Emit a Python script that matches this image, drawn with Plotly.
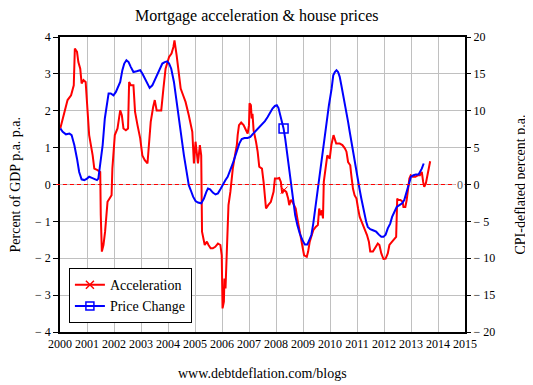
import plotly.graph_objects as go

# ---- Data ----
acc_year = [2000.01, 2000.16, 2000.28, 2000.41, 2000.51, 2000.55, 2000.63, 2000.68, 2000.75, 2000.80,
            2000.87, 2000.95, 2001.00, 2001.08, 2001.21, 2001.27, 2001.39, 2001.49, 2001.51, 2001.55,
            2001.61, 2001.67, 2001.76, 2001.82, 2001.91, 2001.94, 2002.03, 2002.13, 2002.23, 2002.29,
            2002.35, 2002.44, 2002.52, 2002.56, 2002.62, 2002.72, 2002.78, 2002.87, 2002.97, 2003.05,
            2003.14, 2003.24, 2003.29, 2003.36, 2003.45, 2003.51, 2003.58, 2003.67, 2003.75, 2003.83,
            2003.91, 2004.04, 2004.13, 2004.20, 2004.24, 2004.32, 2004.40, 2004.47, 2004.56, 2004.65,
            2004.77, 2004.90, 2004.96, 2005.02, 2005.11, 2005.18, 2005.23, 2005.26, 2005.36, 2005.44,
            2005.50, 2005.58, 2005.66, 2005.75, 2005.85, 2005.94, 2005.99, 2006.02, 2006.07, 2006.09,
            2006.13, 2006.15, 2006.19, 2006.24, 2006.31, 2006.36, 2006.40, 2006.48, 2006.55, 2006.58,
            2006.63, 2006.71, 2006.80, 2006.89, 2006.95, 2007.00, 2007.02, 2007.07, 2007.10, 2007.13,
            2007.17, 2007.26, 2007.32, 2007.38, 2007.48, 2007.54, 2007.59, 2007.63, 2007.71, 2007.81,
            2007.91, 2007.96, 2008.03, 2008.12, 2008.18, 2008.23, 2008.30, 2008.38, 2008.45, 2008.49,
            2008.55, 2008.61, 2008.67, 2008.73, 2008.79, 2008.89, 2008.98, 2009.04, 2009.14, 2009.19,
            2009.25, 2009.31, 2009.38, 2009.47, 2009.55, 2009.60, 2009.65, 2009.70, 2009.74, 2009.77,
            2009.83, 2009.90, 2009.99, 2010.05, 2010.13, 2010.23, 2010.36, 2010.46, 2010.55, 2010.61,
            2010.67, 2010.75, 2010.79, 2010.85, 2010.91, 2010.98, 2011.04, 2011.10, 2011.20, 2011.28,
            2011.37, 2011.44, 2011.49, 2011.59, 2011.67, 2011.77, 2011.83, 2011.90, 2011.98, 2012.06,
            2012.14, 2012.20, 2012.30, 2012.39, 2012.45, 2012.49, 2012.53, 2012.61, 2012.69, 2012.72,
            2012.79, 2012.84, 2012.89, 2012.94, 2012.99, 2013.06, 2013.16, 2013.25, 2013.33, 2013.40,
            2013.45, 2013.49, 2013.55, 2013.61, 2013.67, 2013.71]
acc_value = [1.52, 1.97, 2.29, 2.42, 2.69, 3.69, 3.60, 3.32, 3.14, 2.74,
             2.83, 2.78, 2.24, 1.34, 0.79, 0.43, 0.39, 0.34, -0.83, -1.82,
             -1.64, -1.28, -0.47, -0.38, -0.29, 0.43, 1.34, 1.52, 2.01, 1.88,
             1.52, 1.47, 1.52, 2.78, 2.69, 2.69, 1.97, 1.61, 1.25, 0.79,
             0.66, 0.57, 0.98, 1.70, 2.10, 2.29, 2.01, 2.01, 2.01, 2.60,
             3.14, 3.46, 3.55, 3.73, 3.91, 3.50, 3.05, 2.60, 2.42, 2.24,
             1.88, 1.43, 0.57, 1.16, 0.57, 1.07, 0.79, -1.28, -1.64, -1.55,
             -1.64, -1.73, -1.73, -1.69, -1.60, -1.64, -1.92, -3.36, -3.18, -2.55,
             -2.82, -2.37, -1.19, -0.56, -0.20, 0.16, 0.43, 0.79, 1.07, 1.34,
             1.61, 1.68, 1.61, 1.47, 1.38, 1.61, 2.20, 2.15, 1.79, 1.92,
             1.47, 1.16, 0.89, 0.48, 0.43, 0.07, -0.29, -0.65, -0.56, -0.47,
             -0.20, 0.16, 0.16, 0.18, 0.07, -0.24, -0.15, -0.20, -0.38, -0.56,
             -0.42, -0.47, -0.56, -0.65, -0.92, -1.37, -1.73, -1.92, -1.96, -1.82,
             -1.55, -1.37, -1.24, -1.15, -1.10, -0.65, -0.83, -0.70, -0.92, 0.07,
             0.43, 0.79, 0.70, 1.07, 1.34, 1.11, 1.11, 1.07, 0.98, 0.89,
             0.61, 0.52, 0.25, -0.11, -0.29, -0.38, -0.65, -0.88, -1.06, -1.19,
             -1.37, -1.55, -1.82, -1.82, -1.73, -1.60, -1.64, -1.87, -2.02, -2.01,
             -1.87, -1.64, -1.55, -1.46, -1.42, -0.38, -0.42, -0.42, -0.47, -0.61,
             -0.61, -0.42, -0.11, 0.16, 0.25, 0.21, 0.21, 0.25, 0.25, 0.34,
             0.07, -0.06, 0.03, 0.25, 0.39, 0.63]

price_year = [2000.01, 2000.10, 2000.22, 2000.35, 2000.43, 2000.53, 2000.63, 2000.71, 2000.80, 2000.90,
              2001.00, 2001.08, 2001.18, 2001.27, 2001.37, 2001.42, 2001.49, 2001.58, 2001.66, 2001.74,
              2001.80, 2001.88, 2001.98, 2002.07, 2002.15, 2002.23, 2002.31, 2002.38, 2002.46, 2002.54,
              2002.62, 2002.72, 2002.84, 2002.97, 2003.05, 2003.14, 2003.24, 2003.32, 2003.42, 2003.51,
              2003.61, 2003.70, 2003.79, 2003.88, 2003.97, 2004.04, 2004.12, 2004.22, 2004.32, 2004.40,
              2004.49, 2004.59, 2004.69, 2004.77, 2004.84, 2004.93, 2005.02, 2005.11, 2005.23, 2005.33,
              2005.42, 2005.48, 2005.56, 2005.66, 2005.76, 2005.85, 2005.94, 2006.03, 2006.13, 2006.21,
              2006.31, 2006.40, 2006.48, 2006.56, 2006.64, 2006.73, 2006.83, 2006.95, 2007.05, 2007.13,
              2007.22, 2007.32, 2007.42, 2007.50, 2007.59, 2007.69, 2007.79, 2007.87, 2007.96, 2008.03,
              2008.09, 2008.15, 2008.21, 2008.28, 2008.34, 2008.40, 2008.46, 2008.52, 2008.58, 2008.64,
              2008.71, 2008.79, 2008.88, 2008.98, 2009.07, 2009.16, 2009.23, 2009.31, 2009.38, 2009.47,
              2009.55, 2009.63, 2009.71, 2009.80, 2009.87, 2009.96, 2010.06, 2010.12, 2010.18, 2010.24,
              2010.30, 2010.36, 2010.42, 2010.48, 2010.55, 2010.61, 2010.67, 2010.73, 2010.79, 2010.85,
              2010.91, 2010.98, 2011.04, 2011.10, 2011.16, 2011.22, 2011.28, 2011.34, 2011.40, 2011.49,
              2011.59, 2011.71, 2011.81, 2011.90, 2011.98, 2012.06, 2012.14, 2012.23, 2012.30, 2012.39,
              2012.47, 2012.57, 2012.67, 2012.75, 2012.82, 2012.88, 2012.94, 2013.00, 2013.09, 2013.18,
              2013.28, 2013.34, 2013.40, 2013.47]
price_value = [7.6, 7.15, 6.8, 6.9, 6.7, 5.35, 3.5, 1.7, 0.7, 0.6,
               0.8, 1.05, 0.9, 0.8, 0.6, 0.8, 2.6, 5.35, 8.95, 11.2,
               12.35, 12.35, 12.1, 12.55, 13.25, 13.9, 15.5, 16.4, 16.85, 16.6,
               15.95, 15.25, 15.35, 15.5, 15.05, 14.35, 13.7, 13.1, 13.45, 14.15,
               14.8, 15.7, 16.4, 16.6, 16.7, 16.4, 15.7, 13.9, 11.2, 8.5,
               6.25, 3.95, 1.7, -0.1, -0.75, -1.65, -2.25, -2.45, -2.55, -1.9,
               -1.0, -0.55, -0.65, -1.1, -1.35, -1.2, -0.65, 0.0, 0.6, 1.05,
               1.95, 2.85, 3.75, 4.65, 5.55, 6.15, 6.3, 6.3, 6.45, 6.8,
               7.15, 7.5, 7.8, 8.15, 8.6, 9.15, 9.85, 10.3, 10.65, 10.75,
               10.4, 9.6, 8.7, 7.6, 6.25, 4.45, 2.6, 0.8, -1.0, -2.55,
               -4.15, -5.5, -6.65, -7.55, -8.15, -8.15, -7.55, -6.85, -5.3, -2.8,
               -0.55, 1.7, 4.45, 6.7, 8.7, 10.75, 13.0, 14.8, 15.25, 15.5,
               15.25, 14.6, 13.45, 12.35, 11.2, 9.85, 8.5, 7.15, 5.8, 4.45,
               3.05, 1.7, 0.35, -0.75, -1.9, -3.05, -4.15, -5.05, -5.75, -6.05,
               -6.2, -6.4, -6.8, -7.1, -7.1, -6.8, -5.95, -5.3, -4.4, -3.6,
               -3.05, -2.8, -2.55, -2.1, -1.2, -0.3, 0.6, 1.05, 1.25, 1.35,
               1.35, 1.7, 2.15, 2.85]

series_names = ["Acceleration", "Price Change"]
marker_year = 2008.3  # single marker drawn on each curve (as in the reference)

x_ticks = list(range(2000, 2016))
left_tickvals = [4, 3, 2, 1, 0, -1, -2, -3, -4]
left_ticktext = ["4", "3", "2", "1", "0", "− 1", "− 2", "− 3", "− 4"]
right_tickvals = [20, 15, 10, 5, 0, -5, -10, -15, -20]
right_ticktext = ["20", "15", "10", "5", "0", "− 5", "− 10", "− 15", "− 20"]

title_text = "Mortgage acceleration & house prices"
left_title = "Percent of GDP p.a. p.a."
right_title = "CPI-deflated percent p.a."
footer_text = "www.debtdeflation.com/blogs"

RED = "#ff0000"
BLUE = "#0000ff"
FONT = "Liberation Serif"


def nearest(xs, target):
    return min(range(len(xs)), key=lambda i: abs(xs[i] - target))


ka = nearest(acc_year, marker_year)
kp = nearest(price_year, marker_year)

fig = go.Figure()

# main lines
fig.add_trace(go.Scatter(x=acc_year, y=acc_value, mode="lines", yaxis="y",
                         line=dict(color=RED, width=2), showlegend=False, hoverinfo="skip"))
fig.add_trace(go.Scatter(x=price_year, y=price_value, mode="lines", yaxis="y2",
                         line=dict(color=BLUE, width=2), showlegend=False, hoverinfo="skip"))

# single markers
fig.add_trace(go.Scatter(x=[acc_year[ka]], y=[acc_value[ka]], mode="markers", yaxis="y",
                         marker=dict(symbol="x-thin-open", size=7, color=RED, line=dict(color=RED, width=1)),
                         showlegend=False, hoverinfo="skip"))
fig.add_trace(go.Scatter(x=[price_year[kp]], y=[price_value[kp]], mode="markers", yaxis="y2",
                         marker=dict(symbol="square-open", size=9, color=BLUE, line=dict(color=BLUE, width=1.5)),
                         showlegend=False, hoverinfo="skip"))

# legend entries
fig.add_trace(go.Scatter(x=[None], y=[None], mode="lines+markers", name=series_names[0],
                         line=dict(color=RED, width=2),
                         marker=dict(symbol="x-thin-open", size=8, color=RED, line=dict(color=RED, width=1.5))))
fig.add_trace(go.Scatter(x=[None], y=[None], mode="lines+markers", name=series_names[1],
                         line=dict(color=BLUE, width=2),
                         marker=dict(symbol="square-open", size=8, color=BLUE, line=dict(color=BLUE, width=1.5))))

# zero marker line
fig.add_shape(type="line", xref="paper", yref="y", x0=-0.01, x1=1, y0=0, y1=0,
              line=dict(color=RED, width=1, dash="4px,3px"), layer="above")

# The page body has an 8px margin, so the figure is sized/offset to compensate.
fig.update_layout(
    width=525, height=377,
    margin=dict(l=52, r=68, t=29, b=53),
    paper_bgcolor="white", plot_bgcolor="white",
    font=dict(family=FONT, size=12, color="black"),
    showlegend=True,
    legend=dict(x=0.022, y=0.03, xanchor="left", yanchor="bottom",
                bgcolor="white", bordercolor="black", borderwidth=1,
                font=dict(family=FONT, size=14, color="black"),
                itemwidth=30, tracegroupgap=0),
    xaxis=dict(range=[2000, 2015], tickvals=x_ticks, ticktext=[str(v) for v in x_ticks],
               showgrid=True, gridcolor="#c0c0c0", gridwidth=1,
               showline=True, linecolor="black", linewidth=1.5, mirror=True,
               ticks="", zeroline=False, tickfont=dict(family=FONT, size=12)),
    yaxis=dict(range=[-4, 4], tickvals=left_tickvals, ticktext=left_ticktext,
               showgrid=True, gridcolor="#c0c0c0", gridwidth=1,
               showline=True, linecolor="black", linewidth=1.5, mirror=True,
               ticks="outside", ticklen=5, tickcolor="black", zeroline=False,
               tickfont=dict(family=FONT, size=12)),
    yaxis2=dict(range=[-20, 20], tickvals=right_tickvals, ticktext=right_ticktext,
                overlaying="y", side="right", showgrid=False,
                ticks="outside", ticklen=5, tickcolor="black", zeroline=False,
                showline=False, tickfont=dict(family=FONT, size=12)),
    annotations=[
        dict(text=title_text, xref="paper", yref="paper", x=0.484, y=(295 + 21) / 295,
             xanchor="center", yanchor="middle", showarrow=False,
             font=dict(family=FONT, size=16, color="black")),
        dict(text=left_title, xref="paper", yref="paper", x=(15 - 60) / 405, y=0.5,
             xanchor="center", yanchor="middle", textangle=-90, showarrow=False,
             font=dict(family=FONT, size=14, color="black")),
        dict(text=right_title, xref="paper", yref="paper", x=(520 - 60) / 405, y=0.5,
             xanchor="center", yanchor="middle", textangle=-90, showarrow=False,
             font=dict(family=FONT, size=14, color="black")),
        dict(text=footer_text, xref="paper", yref="paper", x=0.499, y=(332 - 373) / 295,
             xanchor="center", yanchor="middle", showarrow=False,
             font=dict(family=FONT, size=14, color="black")),
        dict(text="0", xref="paper", yref="y", x=(460 - 60) / 405, y=0,
             xanchor="center", yanchor="middle", showarrow=False, bgcolor="white",
             font=dict(family=FONT, size=12, color="#555555")),
    ],
)

fig.write_html("out.html")
